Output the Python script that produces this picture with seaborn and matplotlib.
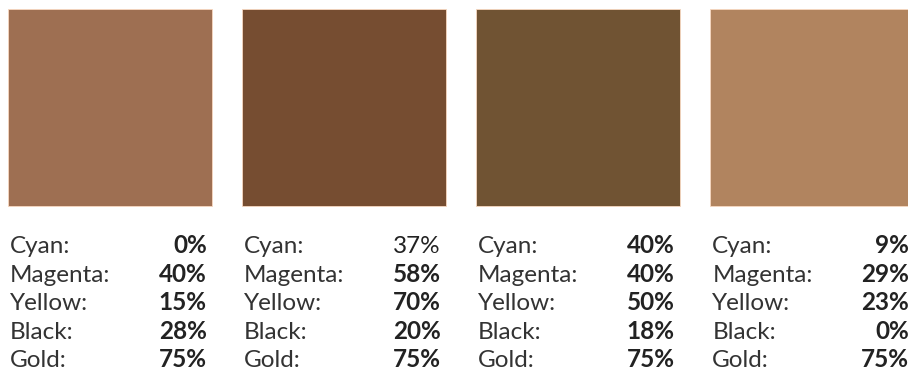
import seaborn as sns
import matplotlib.pyplot as plt
import pandas as pd

# swatch data
swatches = ["A", "B", "C", "D"]
swatch_colors = ["#9E6F52", "#764D31", "#705333", "#B1845F"]
channels = ["Cyan:", "Magenta:", "Yellow:", "Black:", "Gold:"]
cyan = [0, 37, 40, 9]
magenta = [40, 58, 40, 29]
yellow = [15, 70, 50, 23]
black = [28, 20, 18, 0]
gold = [75, 75, 75, 75]

df = pd.DataFrame({"swatch": swatches, "height": [1, 1, 1, 1]})

sns.set_style("white")
plt.rcParams["font.family"] = ["Lato", "DejaVu Sans"]

fig = plt.figure(figsize=(9.08, 3.80), dpi=100)
ax = fig.add_axes([0, 0, 1, 1])
bar_w = 0.87
sns.barplot(data=df, x="swatch", y="height", hue="swatch", palette=swatch_colors,
            saturation=1, width=bar_w, legend=False, ax=ax,
            edgecolor="#f8d8c0", linewidth=0.6)
ax.set_xlim(-0.47, 3.41)
ax.set_ylim(-0.883, 1.046)
ax.set_axis_off()

values = [cyan, magenta, yellow, black, gold]
# first row baseline ~ 47px under swatch bottom, rows ~28.5px apart
for i in range(len(swatches)):
    left = i - bar_w / 2
    right = i + bar_w / 2
    for r, (name, vals) in enumerate(zip(channels, values)):
        dy = -(47 + r * 28.5)
        ax.annotate(name, xy=(left, 0), xytext=(2, dy), textcoords="offset pixels",
                    ha="left", va="baseline", fontsize=17.5, fontweight="normal",
                    color="#333333", annotation_clip=False)
        weight = "normal" if (i == 1 and r == 0) else "bold"
        ax.annotate(f"{vals[i]}%", xy=(right, 0), xytext=(-5, dy), textcoords="offset pixels",
                    ha="right", va="baseline", fontsize=17.5, fontweight=weight,
                    color="#222222", annotation_clip=False)

fig.savefig("out.png", dpi=100)
